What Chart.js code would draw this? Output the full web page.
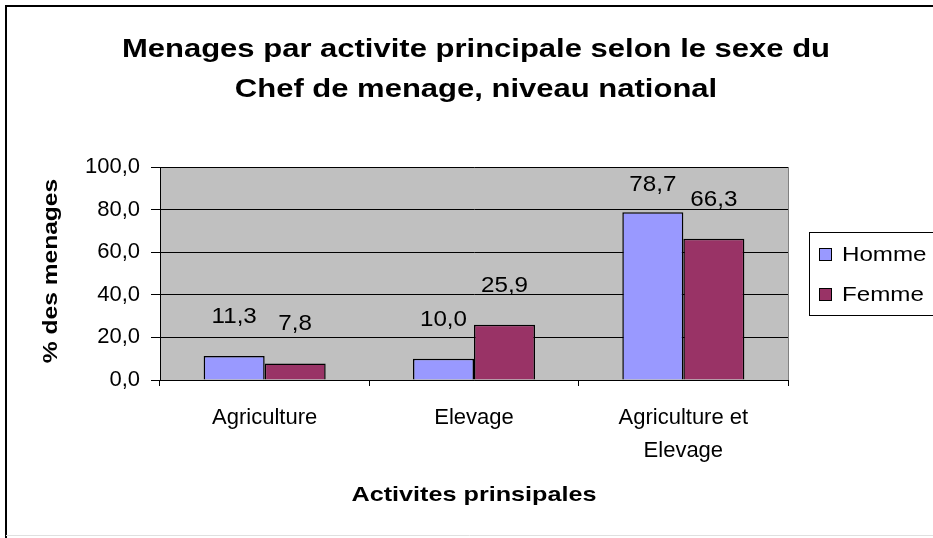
<!DOCTYPE html>
<html>
<head>
<meta charset="utf-8">
<script src="https://cdn.jsdelivr.net/npm/chart.js@4.4.1/dist/chart.umd.min.js"></script>
<style>
  body { margin: 0; background: #fff; }
  #wrap { position: relative; width: 933px; height: 538px; }
</style>
</head>
<body>
<div id="wrap"><canvas id="chartCanvas" width="933" height="538"></canvas></div>
<script>
const categories = ["Agriculture", "Elevage", ["Agriculture et", "Elevage"]];
const hommeValues = [11.3, 10.0, 78.7];
const femmeValues = [7.8, 25.9, 66.3];
const seriesNames = ["Homme", "Femme"];
const titleLines = ["Menages par activite principale selon le sexe du", "Chef de menage, niveau national"];
const yAxisTitle = "% des menages";
const xAxisTitle = "Activites prinsipales";

const FONT = "Arial, 'Liberation Sans', sans-serif";
const fmt = (v) => v.toFixed(1).replace(".", ",");

// Excel text is drawn a bit wider than Arial, so stretch it horizontally
function wideText(ctx, text, x, y, sx, rot) {
  ctx.save();
  ctx.translate(x, y);
  if (rot) ctx.rotate(rot);
  ctx.scale(sx, 1);
  ctx.fillText(text, 0, 0);
  ctx.restore();
}

// frame, plot background, titles, legend and value labels
const excelLook = {
  id: "excelLook",
  beforeDraw(chart) {
    const { ctx, chartArea: a } = chart;
    ctx.save();
    ctx.fillStyle = "#c0c0c0";
    ctx.fillRect(a.left, a.top, a.right - a.left, a.bottom - a.top);
    ctx.strokeStyle = "#808080";
    ctx.lineWidth = 1;
    ctx.beginPath();
    ctx.moveTo(a.right + 0.5, a.top);
    ctx.lineTo(a.right + 0.5, a.bottom);
    ctx.stroke();
    // outer frame
    ctx.strokeStyle = "#000";
    ctx.lineWidth = 2;
    ctx.beginPath();
    ctx.moveTo(6, 538);
    ctx.lineTo(6, 6);
    ctx.lineTo(933, 6);
    ctx.stroke();
    ctx.strokeStyle = "#e0e0e0";
    ctx.lineWidth = 1;
    ctx.beginPath();
    ctx.moveTo(6, 535.5);
    ctx.lineTo(933, 535.5);
    ctx.stroke();
    ctx.restore();
  },
  afterDraw(chart) {
    const { ctx, chartArea: a } = chart;
    ctx.save();
    ctx.fillStyle = "#000";
    ctx.textAlign = "center";

    // chart title
    ctx.font = "bold 25px " + FONT;
    ctx.textBaseline = "alphabetic";
    titleLines.forEach((t, i) => wideText(ctx, t, 476, 57 + i * 40, 1.24));

    // axis titles
    ctx.font = "bold 21px " + FONT;
    ctx.textBaseline = "middle";
    wideText(ctx, xAxisTitle, 474, 495, 1.2);
    wideText(ctx, yAxisTitle, 51, 271, 1.17, -Math.PI / 2);

    // value labels
    ctx.font = "22px " + FONT;
    chart.data.datasets.forEach((ds, di) => {
      chart.getDatasetMeta(di).data.forEach((bar, i) => {
        const y = Math.max(bar.y - 39, a.top + 18);
        wideText(ctx, fmt(ds.data[i]), bar.x, y, 1.1);
      });
    });

    // legend
    const lx = 809, ly = 232, lw = 124, lh = 83;
    ctx.fillStyle = "#fff";
    ctx.fillRect(lx, ly, lw, lh);
    ctx.strokeStyle = "#000";
    ctx.lineWidth = 1;
    ctx.strokeRect(lx + 0.5, ly + 0.5, lw, lh);
    ctx.textAlign = "left";
    ctx.font = "21px " + FONT;
    chart.data.datasets.forEach((ds, di) => {
      const cy = 254 + di * 40;
      ctx.fillStyle = ds.backgroundColor;
      ctx.fillRect(819, cy - 6, 13, 13);
      ctx.strokeStyle = "#000";
      ctx.strokeRect(819.5, cy - 5.5, 12, 12);
      ctx.fillStyle = "#000";
      wideText(ctx, ds.label, 842, cy + 1, 1.15);
    });
    ctx.restore();
  }
};

new Chart(document.getElementById("chartCanvas"), {
  type: "bar",
  data: {
    labels: categories,
    datasets: [
      { label: seriesNames[0], data: hommeValues, backgroundColor: "#9999ff", borderColor: "#000", borderWidth: 1.5 },
      { label: seriesNames[1], data: femmeValues, backgroundColor: "#993366", borderColor: "#000", borderWidth: 1.5 }
    ]
  },
  options: {
    responsive: false,
    animation: false,
    layout: { padding: { left: 5, top: 167, right: 145, bottom: 0 } },
    datasets: { bar: { categoryPercentage: 0.583, barPercentage: 1 } },
    plugins: { legend: { display: false }, title: { display: false }, tooltip: { enabled: false } },
    scales: {
      x: {
        afterFit: (s) => { s.height = 158; },
        grid: { display: true, drawOnChartArea: false, color: "#000", tickLength: 6, offset: true },
        border: { color: "#000", width: 1 },
        ticks: { color: "#000", font: { family: FONT, size: 22, lineHeight: 1.5 }, padding: 15, maxRotation: 0 }
      },
      y: {
        min: 0,
        max: 100,
        afterFit: (s) => { s.width = 155; },
        grid: { color: "#000", tickLength: 9 },
        border: { color: "#000", width: 1 },
        ticks: { stepSize: 20, color: "#000", font: { family: FONT, size: 22 }, padding: 11, callback: (v) => fmt(v) }
      }
    }
  },
  plugins: [excelLook]
});
</script>
</body>
</html>
